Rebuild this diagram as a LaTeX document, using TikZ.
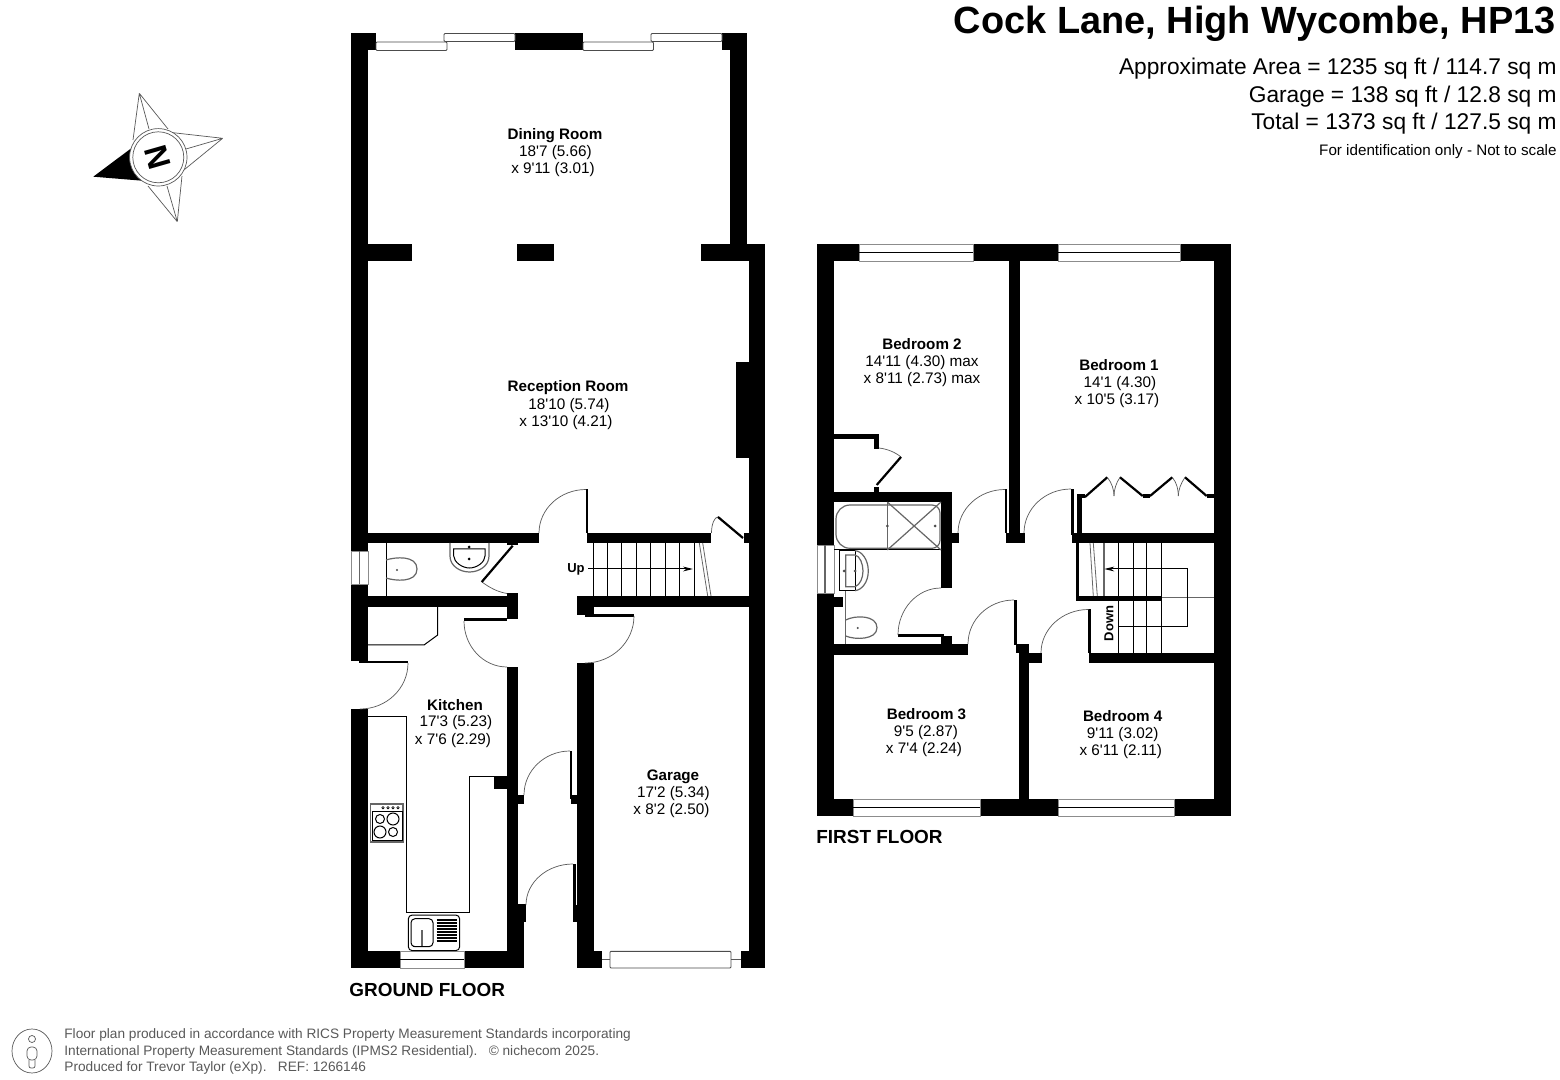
\documentclass[tikz,border=0pt]{standalone}
\usepackage{fontspec}
\usetikzlibrary{arrows.meta}
\newfontfamily\plansans{Liberation Sans}

\newcommand{\fs}[1]{\fontsize{#1}{#1}\selectfont}
% quarter of an ellipse, leaves upright and arrives flat
\newcommand{\swing}[4]{\draw[swing] (#1,#2) .. controls (#1,{#2+0.552*(#4-#2)}) and ({#3-0.552*(#3-#1)},#4) .. (#3,#4);}

\tikzset{
	swing/.style={draw=black!65, line width=0.35pt},
	thinline/.style={draw=black, line width=0.5pt},
	greyline/.style={draw=black!60, line width=0.6pt},
	leaf/.style={draw=black, line width=1.1pt},
	pane/.style={draw=black!70, fill=white, line width=0.45pt},
	roomname/.style={font=\plansans\bfseries\fs{7.6}, inner sep=0pt, text height=6.2pt, text depth=0pt},
	roomtext/.style={font=\plansans\fs{7.65}, inner sep=0pt, text height=6.2pt, text depth=0pt},
	stairname/.style={font=\plansans\bfseries\fs{6.5}, inner sep=0pt, text height=5pt, text depth=0pt},
	floorname/.style={font=\plansans\bfseries\fs{9.47}, inner sep=0pt, anchor=west},
	headline/.style={font=\plansans\fs{11.37}, inner sep=0pt, anchor=east},
	smallprint/.style={font=\plansans\fs{6.83}, text=black!65, inner sep=0pt, anchor=west},
}

\begin{document}
\begin{tikzpicture}[x=0.5pt,y=-0.5pt]
	\path[use as bounding box, fill=white] (0,0) rectangle (1560,1080);

	% Ground floor walls
	\foreach \xa/\ya/\xb/\yb in {351/33/368/551, 351/33/376/50.5, 515/33/583/50.5, 722/33/747/50.5, 730/33/747/261,
		368/244/412/261, 517/244/554/261, 701/244/765/261, 749/244/765/968, 736/362/749/458,
		368/533/539/543.5, 507/543/518/545, 587/533/711/543.5, 586/489.5/588/533, 744/533/749/543.5,
		351/584/368/661, 359/661/408/663.5, 351/709/368/968, 368/596/518/606.7, 507/593/518/619.5,
		464/618/507/621, 507/667/518/968, 518/795/524/804, 494/777/507/789, 570/751/572/799, 571/795/577/804,
		577/663/594/968, 577/596/749/606.7, 577/596/594/615, 585/614/634/616.7, 573/864/576/905, 573/905/577/922,
		507/904/524/968, 524/904/526/922, 351/951/400/968, 464/951/524/968, 577/951/602/968, 741/951/765/968}
		\fill (\xa,\ya) rectangle (\xb,\yb);

	% First floor walls
	\foreach \xa/\ya/\xb/\yb in {817/244/859/261, 973/244/1058/261, 1180/244/1231/261, 817/244/834/545, 817/593/834/816,
		834/596.7/843/606.7, 1214/244/1231/816, 817/799/853/816, 980/799/1058/816, 1174/799/1231/816,
		1009/261/1019.5/533, 1006/533/1025/543.5, 1005/489.5/1007/533, 952/533/958.5/543.5, 834/491.7/952/502.3,
		941.3/491.7/952.3/587.7, 898/634/944/636.7, 941.3/635.7/952.3/644, 834/644/968.3/655, 1014/600/1016.5/645,
		1016/644.5/1029/653, 1019/653/1029/799, 1029/653/1041.7/662.7, 834/434/879/439, 874/434/879/449,
		874.3/486.7/879/491.7, 1071.3/489.3/1073.7/535, 1072.3/532.7/1214/543.3, 1077/494.3/1081.7/533,
		1077/494.3/1085/498.3, 1142.7/494.3/1150/498.3, 1206.7/494.3/1214/498.3, 1075.7/543/1079.3/600,
		1075.7/596/1161.7/601, 1088.3/609.3/1090.5/653, 1089/653.3/1214/662.7}
		\fill (\xa,\ya) rectangle (\xb,\yb);

	% Windows
	\foreach \xa/\ya/\xb/\yb in {376/42/447/50.5, 444/33.5/515/41.5, 583/42/653.5/50.5, 651/33.5/722/41.5, 610/951.3/731/968}
		\draw[pane, rounded corners=0.5pt] (\xa,\ya) rectangle (\xb,\yb);
	\foreach \xa/\ya/\xb/\yb in {859/244/973/261, 1058/244/1180/261, 853/799/980/816, 1058/799/1174/816, 400/951/464/968} {
		\draw[pane, draw=black!45] (\xa,\ya) rectangle (\xb,\yb);
		\draw[thinline] (\xa,{(\ya+\yb)/2}) -- (\xb,{(\ya+\yb)/2});
	}
	\draw[pane, draw=black!45] (351,551) rectangle (368,584);
	\draw[greyline] (359.5,551) -- (359.5,584);
	\draw[pane, draw=black!45] (817,545) rectangle (834,593);
	\draw[greyline] (825,545) -- (825,593);
	\draw[swing] (602,959) -- (610,959) (731,959) -- (741,959);

	% Door swings
	\swing{539}{533}{586}{489.5}
	\swing{711.5}{533}{718}{517}
	\swing{408}{663}{360}{709}
	\swing{464}{621}{507}{667}
	\swing{634}{616}{585}{663}
	\swing{524}{795}{570}{751}
	\swing{526}{905}{573}{864}
	\swing{958}{533}{1005}{489.5}
	\swing{898}{635}{941}{588}
	\swing{968}{644}{1014}{600}
	\swing{1024}{533}{1071}{489}
	\swing{1041}{653}{1088.5}{609.5}
	\draw[swing] (482,582) .. controls (490,588) and (498,592) .. (507,593.5);
	\draw[swing] (879,448) .. controls (887,449) and (895,452) .. (901,457);

	% Door leaves on the skew
	\draw[leaf] (743,538) -- (718,517);
	\draw[leaf] (512.7,545.7) -- (481.7,582);
	\draw[leaf] (901,457) -- (876.7,485);
	\draw[leaf] (1085,497) -- (1107.3,477.3);
	\draw[leaf] (1120,477.3) -- (1142.7,496);
	\draw[leaf] (1150,496) -- (1172.3,477.3);
	\draw[leaf] (1185,477.3) -- (1206.7,496);
	\draw[swing] (1107.3,477.3) .. controls (1112,483) and (1114,490) .. (1114,496);
	\draw[swing] (1120,477.3) .. controls (1116,483) and (1114,490) .. (1114,496);
	\draw[swing] (1172.3,477.3) .. controls (1177,483) and (1178.3,490) .. (1178.3,496);
	\draw[swing] (1185,477.3) .. controls (1181,483) and (1178.3,490) .. (1178.3,496);

	% Stairs
	\foreach \xa in {593.3, 607.3, 621.7, 636.3, 650.7, 665, 679.3, 694}
		\draw[thinline] (\xa,543) -- (\xa,596);
	\draw[greyline, line width=0.4pt] (699.3,543) -- (707.7,596) (702.7,543) -- (711,596);
	\draw[thinline, -{Stealth[length=5pt,width=2.4pt]}] (588,569) -- (693,569);
	\foreach \xa in {1118.3, 1133, 1146.7, 1161.3}
		\draw[thinline] (\xa,543) -- (\xa,653);
	\draw[greyline, line width=0.8pt] (1104,543) -- (1104,596);
	\draw[greyline, line width=0.4pt] (1090,543) -- (1093.3,596) (1093.3,543) -- (1097.3,596);
	\draw[greyline] (1161.7,597.7) -- (1214,597.7);
	\draw[thinline, -{Stealth[length=5pt,width=2.4pt]}] (1118.3,626.7) -- (1187.7,626.7) -- (1187.7,569) -- (1104.3,569);

	% Cloakroom
	\draw[thinline] (386,543) -- (386,596);
	\draw[greyline] (386,560) .. controls (395,557) and (417,555) .. (417,569) .. controls (417,583) and (395,581) .. (386,578);
	\fill[black!70] (397,570) circle (1.2);
	\draw[greyline] (450,543) -- (450,556) .. controls (450,566) and (460,572) .. (469.5,572) .. controls (479,572) and (489,566) .. (489,556) -- (489,543);
	\draw[thinline] (453.7,549) -- (453.7,556) .. controls (454,562) and (462,568) .. (469.5,568) .. controls (477,568) and (485,562) .. (485,556) -- (485,549) -- cycle;
	\fill (469,547) circle (1.5) (469,559) circle (1.5);

	% Kitchen units
	\draw[thinline] (437.7,607) -- (437.7,635) -- (424,645) -- (368,645);
	\draw[thinline] (368,717) -- (406.7,717) -- (406.7,912.7) -- (469,912.7) -- (469,776.7) -- (507,776.7);
	\draw[greyline, fill=white] (370.7,804) rectangle (403,842);
	\draw[thinline] (372,811) rectangle (402,840.7);
	\foreach \xa in {383,388,393,398}
		\draw[thinline, line width=0.3pt] (\xa,807.7) circle (1.2);
	\draw[thinline] (380,819) circle (4.5) (393,819) circle (6) (380,832) circle (6) (393,832) circle (4.5);
	\draw[thinline, rounded corners=2pt] (408.3,915) rectangle (459.7,950.7);
	\draw[thinline, rounded corners=2pt] (411,918.7) rectangle (433,946.7);
	\foreach \ya in {920,923,926,929,932,935,938,941}
		\draw[thinline, line width=0.75pt] (436.7,\ya) -- (456.7,\ya);
	\draw[greyline, line width=1pt] (421.7,930) -- (421.7,946);
	\draw[thinline] (413,946) -- (430,946);

	% Bathroom
	\draw[greyline, rounded corners=7pt] (850,505) -- (836,505) -- (836,548.3) -- (850,548.3);
	\draw[greyline, rounded corners=4pt] (850,505) -- (940,505) -- (940,548.3) -- (850,548.3);
	\draw[thinline] (834,550) -- (941,550);
	\draw[greyline, line width=0.8pt] (887.3,502) -- (887.3,550);
	\draw[greyline] (887.3,502) -- (941,550) (941,502) -- (887.3,550);
	\fill[black!70] (887.3,526) circle (1.5) (935,526) circle (1.5);
	\draw[thinline] (839.3,550.7) rectangle (855,590.7);
	\draw[greyline] (855,550.7) .. controls (862,551) and (868.3,560) .. (868.3,571) .. controls (868.3,582) and (862,590) .. (855,590.7);
	\draw[greyline] (845.7,555) -- (855,555) .. controls (860,556) and (863,564) .. (863,571) .. controls (863,578) and (860,585) .. (855,586.7) -- (845.7,586.7) -- cycle;
	\fill[black!70] (844,571) circle (1.5) (855,571) circle (1.5);
	\draw[greyline] (845.7,590.7) -- (845.7,644);
	\draw[greyline] (845.7,620) .. controls (855,615) and (877,615) .. (877,627.7) .. controls (877,640) and (855,640) .. (845.7,636);
	\fill[black!70] (857.7,628) circle (1.2);

	% Compass
	\draw[swing] (139.3,93.3) -- (133,140) (139.3,93.3) -- (149,129) (139.3,93.3) -- (168,129);
	\draw[swing] (222.7,138.3) -- (173,132.7) (222.7,138.3) -- (186,149) (222.7,138.3) -- (179,174);
	\draw[swing] (177.3,221.7) -- (148,186) (177.3,221.7) -- (167,186) (177.3,221.7) -- (182,176);
	\fill (93.3,176.7) -- (132,147.7) -- (142,180.7) -- cycle;
	\draw[swing, fill=white] (158.3,157.3) circle (28.7);
	\draw[swing] (158.3,157.3) circle (25.5);
	\node[font=\plansans\bfseries\fs{16}, inner sep=0pt, rotate=106] (north) at (157.5,157.5) {N};

	% Room labels
	\node[roomname] (dining) at (555,133) {Dining Room};
	\node[roomtext] (diningA) at (555.5,150) {18'7 (5.66)};
	\node[roomtext] (diningB) at (553,167) {x 9'11 (3.01)};
	\node[roomname] (reception) at (568,385) {Reception Room};
	\node[roomtext] (receptionA) at (569,403) {18'10 (5.74)};
	\node[roomtext] (receptionB) at (566,420) {x 13'10 (4.21)};
	\node[roomname] (kitchen) at (455,704) {Kitchen};
	\node[roomtext] (kitchenA) at (456,720) {17'3 (5.23)};
	\node[roomtext] (kitchenB) at (453,738) {x 7'6 (2.29)};
	\node[roomname] (garage) at (673,774) {Garage};
	\node[roomtext] (garageA) at (673.5,791) {17'2 (5.34)};
	\node[roomtext] (garageB) at (671.5,808) {x 8'2 (2.50)};
	\node[roomname] (bedtwo) at (922,343) {Bedroom 2};
	\node[roomtext] (bedtwoA) at (922,360) {14'11 (4.30) max};
	\node[roomtext] (bedtwoB) at (922,377) {x 8'11 (2.73) max};
	\node[roomname] (bedone) at (1119,364) {Bedroom 1};
	\node[roomtext] (bedoneA) at (1120,381) {14'1 (4.30)};
	\node[roomtext] (bedoneB) at (1117,398) {x 10'5 (3.17)};
	\node[roomname] (bedthree) at (926.5,713) {Bedroom 3};
	\node[roomtext] (bedthreeA) at (926,730) {9'5 (2.87)};
	\node[roomtext] (bedthreeB) at (924,747) {x 7'4 (2.24)};
	\node[roomname] (bedfour) at (1122.7,715) {Bedroom 4};
	\node[roomtext] (bedfourA) at (1122.7,732) {9'11 (3.02)};
	\node[roomtext] (bedfourB) at (1120.7,749) {x 6'11 (2.11)};
	\node[stairname] (up) at (576,567.5) {Up};
	\node[stairname, rotate=90] (down) at (1108.3,623.5) {Down};
	\node[floorname] (ground) at (349,990) {GROUND FLOOR};
	\node[floorname] (first) at (816,837) {FIRST FLOOR};

	% Heading
	\node[font=\plansans\bfseries\fs{18.95}, inner sep=0pt, anchor=east] (title) at (1556,24) {Cock Lane, High Wycombe, HP13};
	\node[headline] (area) at (1557,69) {Approximate Area = 1235 sq ft / 114.7 sq m};
	\node[headline] (garagearea) at (1557,97) {Garage = 138 sq ft / 12.8 sq m};
	\node[headline] (total) at (1557,124) {Total = 1373 sq ft / 127.5 sq m};
	\node[font=\plansans\fs{7.6}, inner sep=0pt, anchor=east] (scale) at (1557,152) {For identification only - Not to scale};

	% Small print
	\draw[swing] (32,1051) ellipse (20 and 22);
	\draw[swing] (32,1039) circle (3.5);
	\draw[swing, rounded corners=2pt] (27,1047) rectangle (37,1060);
	\draw[swing, rounded corners=1pt] (29,1060) -- (29,1068) -- (35,1068) -- (35,1060);
	\node[smallprint] (printA) at (64,1035) {Floor plan produced in accordance with RICS Property Measurement Standards incorporating};
	\node[smallprint] (printB) at (64,1052) {International Property Measurement Standards (IPMS2 Residential).\ \ \ © nichecom 2025.};
	\node[smallprint] (printC) at (64,1068) {Produced for Trevor Taylor (eXp).\ \ \ REF: 1266146};
\end{tikzpicture}
\end{document}
